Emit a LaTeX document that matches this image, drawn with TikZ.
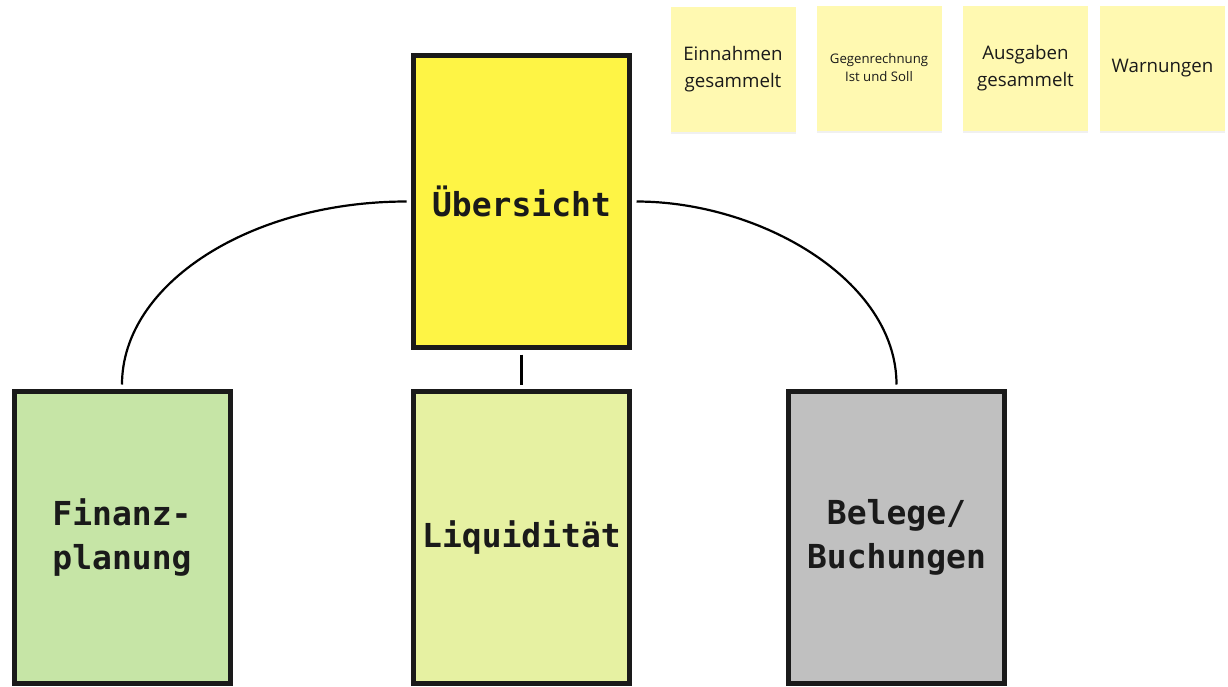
\documentclass[tikz,border=0pt]{standalone}
\usepackage{fontspec}
\usetikzlibrary{shadows}
\newfontfamily\boxfont{DejaVu Sans Mono}
\newfontfamily\notefont{Open Sans}
\newcommand{\boxFontSize}[0]{\fontsize{33}{44}\selectfont}
\newcommand{\noteFontSize}[0]{\fontsize{18.7}{27}\selectfont}
\newcommand{\smallNoteFontSize}[0]{\fontsize{13.2}{18}\selectfont}
\definecolor{boxborder}{HTML}{1A1A1A}
\definecolor{overviewyellow}{HTML}{FEF445}
\definecolor{planninggreen}{HTML}{C6E5A6}
\definecolor{liquiditygreen}{HTML}{E6F1A2}
\definecolor{receiptsgray}{HTML}{C0C0C0}
\definecolor{notecolor}{HTML}{FFF9B1}

\begin{document}
\begin{tikzpicture}[x=1pt, y=-1pt]
  \tikzset{area/.style={draw=boxborder, line width=5pt, minimum width=216pt, minimum height=292pt, inner sep=0pt, outer sep=7pt, align=center, text=boxborder, font=\boxfont\bfseries\boxFontSize}}
  \tikzset{note/.style={fill=notecolor, minimum width=125pt, minimum height=125pt, inner sep=0pt, align=center, text=boxborder, font=\notefont\noteFontSize, drop shadow={opacity=0.12, shadow xshift=0pt, shadow yshift=-2pt}}}
  \tikzset{link/.style={draw=black, line width=2.2pt}}
  \useasboundingbox (0,0) rectangle (1228,686);
  % main areas
  \node[area, fill=overviewyellow](Uebersicht) at (521.5,201.5){Übersicht};
  \node[area, fill=planninggreen](Finanzplanung) at (122,537.5){Finanz-\\planung};
  \node[area, fill=liquiditygreen](Liquiditaet) at (521.5,537.5){Liquidität};
  \node[area, fill=receiptsgray](Belege) at (896.5,537.5){Belege/\\Buchungen};
  % sticky notes
  \node[note](Einnahmen) at (733,69.5){Einnahmen\\gesammelt};
  \node[note, font=\notefont\smallNoteFontSize](Gegenrechnung) at (879,68){Gegenrechnung\\Ist und Soll};
  \node[note](Ausgaben) at (1025.5,68.5){Ausgaben\\gesammelt};
  \node[note](Warnungen) at (1162.5,68){Warnungen};
  % connectors
  \draw[link] (Uebersicht.west) .. controls (250,201.5) and (122,284) .. (Finanzplanung.north);
  \draw[link] (Uebersicht.south) -- (Liquiditaet.north);
  \draw[link] (Uebersicht.east) .. controls (760,201.5) and (896.5,280) .. (Belege.north);
\end{tikzpicture}
\end{document}
